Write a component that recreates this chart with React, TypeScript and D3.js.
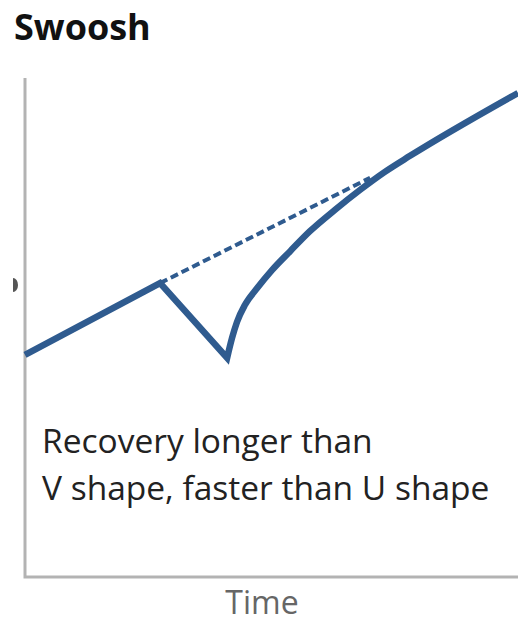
import React from "react";
import * as d3 from "d3";

// Time (0-100) vs output index (0-100)
const preShockTime = [0, 27.4, 41.0];
const preShockValue = [44.5, 58.9, 43.9];
const recoveryTime = [41.0, 42.0, 43.0, 44.6, 47.1, 50.1, 53.8, 57.8, 62.9, 68.0, 73.0, 78.1, 100];
const recoveryValue = [43.9, 47.9, 51.1, 54.5, 57.9, 61.5, 65.3, 69.3, 73.6, 77.6, 81.2, 84.4, 97.0];
const trendTime = [27.4, 70.0];
const trendValue = [58.9, 80.0];

const title = "Swoosh";
const noteLines = ["Recovery longer than", "V shape, faster than U shape"];
const xLabel = "Time";

const W = 518;
const H = 622;
const left = 25;
const right = 518;
const top = 78;
const bottom = 577;
const lineColor = "#2f5b8f";
const font = "'Open Sans', 'Noto Sans', sans-serif";

export default function App() {
  const x = d3.scaleLinear().domain([0, 100]).range([left, right]);
  const y = d3.scaleLinear().domain([0, 100]).range([bottom, top]);

  const pre = preShockTime.map((t, i) => [t, preShockValue[i]] as [number, number]);
  const rec = recoveryTime.map((t, i) => [t, recoveryValue[i]] as [number, number]);
  const trend = trendTime.map((t, i) => [t, trendValue[i]] as [number, number]);

  const linear = d3
    .line<[number, number]>()
    .x((d) => x(d[0]))
    .y((d) => y(d[1]));
  const smooth = d3
    .line<[number, number]>()
    .x((d) => x(d[0]))
    .y((d) => y(d[1]))
    .curve(d3.curveMonotoneX);

  const mainPath = (linear(pre) || "") + "L" + (smooth(rec) || "").slice(1);

  return (
    <svg
      width={W}
      height={H}
      style={{ position: "absolute", left: 0, top: 0, background: "#fff" }}
    >
      <text x={14} y={40} fontFamily={font} fontWeight={700} fontSize={36} fill="#111">
        {title}
      </text>
      <path d="M13,278 A5,7 0 0 1 13,292 Z" fill="#555" />
      <path
        d={`M${left},${top}V${bottom}H${right}`}
        fill="none"
        stroke="#b3b3b3"
        strokeWidth={3}
      />
      <path
        d={linear(trend) || ""}
        fill="none"
        stroke={lineColor}
        strokeWidth={4}
        strokeDasharray="8,4"
      />
      <path
        d={mainPath}
        fill="none"
        stroke={lineColor}
        strokeWidth={6.5}
        strokeLinejoin="miter"
      />
      {noteLines.map((l, i) => (
        <text key={i} x={42} y={453 + i * 47} fontFamily={font} fontSize={33.5} fill="#222">
          {l}
        </text>
      ))}
      <text
        x={262}
        y={614}
        textAnchor="middle"
        fontFamily={font}
        fontSize={32}
        fill="#666"
      >
        {xLabel}
      </text>
    </svg>
  );
}
